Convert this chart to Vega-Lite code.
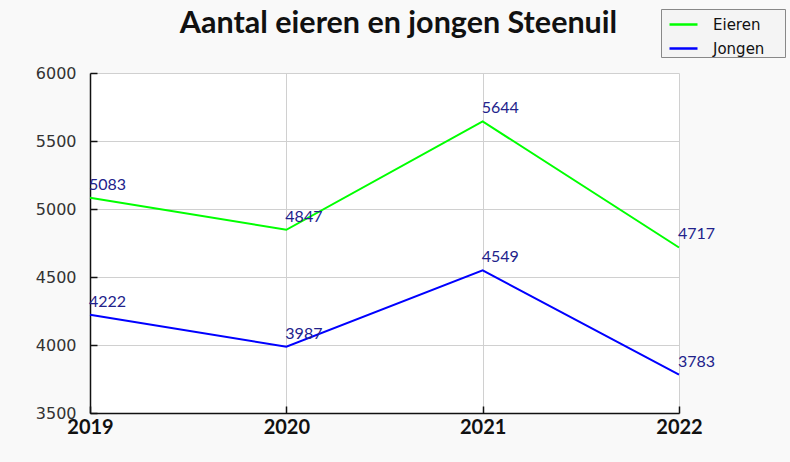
{
  "$schema": "https://vega.github.io/schema/vega-lite/v6.json",
  "width": 589,
  "height": 340,
  "autosize": {"type": "none"},
  "padding": {"left": 90, "top": 73, "right": 111, "bottom": 49},
  "background": "#f9f9f9",
  "title": {
    "text": "Aantal eieren en jongen Steenuil",
    "font": "Lato",
    "fontSize": 30.5,
    "fontWeight": "bold",
    "color": "#111111",
    "anchor": "middle",
    "dx": 14,
    "offset": -31
  },
  "config": {
    "view": {"fill": "white", "stroke": null},
    "font": "Lato"
  },
  "data": {
    "values": [
      {"year": "2019", "series": "Eieren", "value": 5083},
      {"year": "2020", "series": "Eieren", "value": 4847},
      {"year": "2021", "series": "Eieren", "value": 5644},
      {"year": "2022", "series": "Eieren", "value": 4717},
      {"year": "2019", "series": "Jongen", "value": 4222},
      {"year": "2020", "series": "Jongen", "value": 3987},
      {"year": "2021", "series": "Jongen", "value": 4549},
      {"year": "2022", "series": "Jongen", "value": 3783}
    ]
  },
  "encoding": {
    "x": {
      "field": "year",
      "type": "ordinal",
      "scale": {"type": "point", "padding": 0},
      "axis": {
        "title": null,
        "labelAngle": 0,
        "labelFont": "Lato",
        "labelFontSize": 20,
        "labelFontWeight": "bold",
        "labelColor": "#111111",
        "labelPadding": 11,
        "domainColor": "#111111",
        "domainWidth": 1.5,
        "tickColor": "#111111",
        "tickSize": -7,
        "tickWidth": 1.5,
        "grid": true,
        "gridColor": "#d0d0d0",
        "gridWidth": 1
      }
    },
    "y": {
      "field": "value",
      "type": "quantitative",
      "scale": {"domain": [3500, 6000], "nice": false, "zero": false},
      "axis": {
        "title": null,
        "format": "d",
        "values": [3500, 4000, 4500, 5000, 5500, 6000],
        "labelFont": "DejaVu Sans",
        "labelFontSize": 16,
        "labelColor": "#333333",
        "labelPadding": 21,
        "domainColor": "#111111",
        "domainWidth": 1.5,
        "tickColor": "#111111",
        "tickSize": -7,
        "tickWidth": 1.5,
        "grid": true,
        "gridColor": "#d0d0d0",
        "gridWidth": 1
      }
    }
  },
  "layer": [
    {
      "mark": {"type": "line", "strokeWidth": 2},
      "encoding": {
        "color": {
          "field": "series",
          "type": "nominal",
          "scale": {"domain": ["Eieren", "Jongen"], "range": ["#00ff00", "#0000ff"]},
          "legend": {
            "title": "\u00a0",
            "titleOrient": "right",
            "titlePadding": 21,
            "titleFontSize": 8,
            "orient": "none",
            "legendX": 571,
            "legendY": -64,
            "symbolType": "stroke",
            "symbolSize": 784,
            "symbolStrokeWidth": 2.5,
            "symbolOffset": 7,
            "labelFont": "DejaVu Sans",
            "labelFontSize": 15,
            "labelColor": "#111111",
            "labelOffset": 14,
            "rowPadding": 0,
            "padding": 0,
            "strokeColor": "#888888",
            "fillColor": "#f4f4f4"
          }
        }
      }
    },
    {
      "mark": {"type": "text", "align": "left", "baseline": "alphabetic", "dy": -8, "dx": -1, "font": "Lato", "fontSize": 16, "color": "#22228b"},
      "encoding": {
        "text": {"field": "value", "type": "quantitative", "format": "d"},
        "detail": {"field": "series", "type": "nominal"}
      }
    }
  ]
}
